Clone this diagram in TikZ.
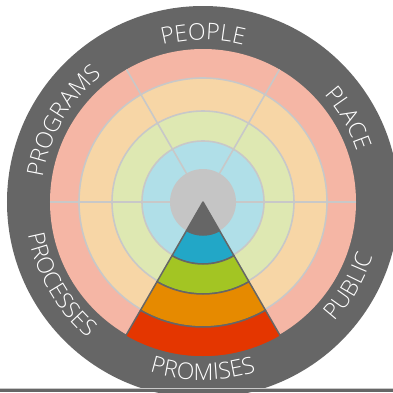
\documentclass[tikz,border=0pt]{standalone}
\usepackage{fontspec}
\setmainfont{Open Sans}
\newfontfamily\lblfamily{Open Sans Light}
\usetikzlibrary{decorations.text}
\usepackage{xcolor}

\definecolor{ringgray}{HTML}{666666}
\definecolor{ringpink}{HTML}{F5B6A5}
\definecolor{ringorange}{HTML}{F7D6A6}
\definecolor{ringgreen}{HTML}{DEE8B2}
\definecolor{ringblue}{HTML}{B0DFE8}
\definecolor{centergray}{HTML}{C5C5C5}
\definecolor{linegray}{HTML}{C8C8C8}
\definecolor{wedgeblue}{HTML}{22A7C7}
\definecolor{wedgegreen}{HTML}{A3C523}
\definecolor{wedgeorange}{HTML}{E68A00}
\definecolor{wedgered}{HTML}{E43600}
\newcommand{\lblfont}{\lblfamily\fontsize{23}{23}\selectfont}

\begin{document}
\begin{tikzpicture}[x=1pt,y=1pt,
          divider/.style={draw=linegray, line width=1.6pt},
          band/.style={draw=ringgray, line width=1.5pt, line join=round},
          ring label/.style={decorate, decoration={text along path,
            text align=center, text color=white, text={|\lblfont|#1}}}]
  \useasboundingbox (-203,-190) rectangle (190,202);
  \clip (-203,-190) rectangle (190,202);
  % outer ring and the four rings
  \fill[ringgray] (0,0) circle[radius=196];
  \fill[ringpink] (0,0) circle[radius=153];
  \fill[ringorange] (0,0) circle[radius=124];
  \fill[ringgreen] (0,0) circle[radius=91];
  \fill[ringblue] (0,0) circle[radius=61];
  \foreach \r in {61,91,124}
    \draw[divider] (0,0) circle[radius=\r];
  \foreach \a in {0,60,120,180}
    \draw[divider] (0,0) -- (\a:153);
  \fill[centergray] (0,0) circle[radius=33];
  % promises wedge
  \filldraw[band, fill=ringgray] (0,0) -- (240:33) arc[start angle=240, end angle=300, radius=33] -- cycle;
  \foreach \rin/\rout/\col in {33/62/wedgeblue, 62/92/wedgegreen, 92/125/wedgeorange, 125/155/wedgered}
    \filldraw[band, fill=\col] (240:\rin) arc[start angle=240, end angle=300, radius=\rin]
      -- (300:\rout) arc[start angle=300, end angle=240, radius=\rout] -- cycle;
  % labels
  \path[ring label=PEOPLE] (120:162) arc[start angle=120, end angle=60, radius=162];
  \path[ring label=PLACE] (60:162) arc[start angle=60, end angle=0, radius=162];
  \path[ring label=PROGRAMS] (180:162) arc[start angle=180, end angle=120, radius=162];
  \path[ring label=PROCESSES] (180:178) arc[start angle=180, end angle=240, radius=178];
  \path[ring label=PROMISES] (240:178) arc[start angle=240, end angle=300, radius=178];
  \path[ring label=PUBLIC] (300:178) arc[start angle=300, end angle=360, radius=178];
  % bottom rule
  \draw[color=linegray, line width=1pt] (-203,-186) -- (190,-186);
  \fill[ringgray] (-203,-187) rectangle (190,-190);
\end{tikzpicture}
\end{document}
